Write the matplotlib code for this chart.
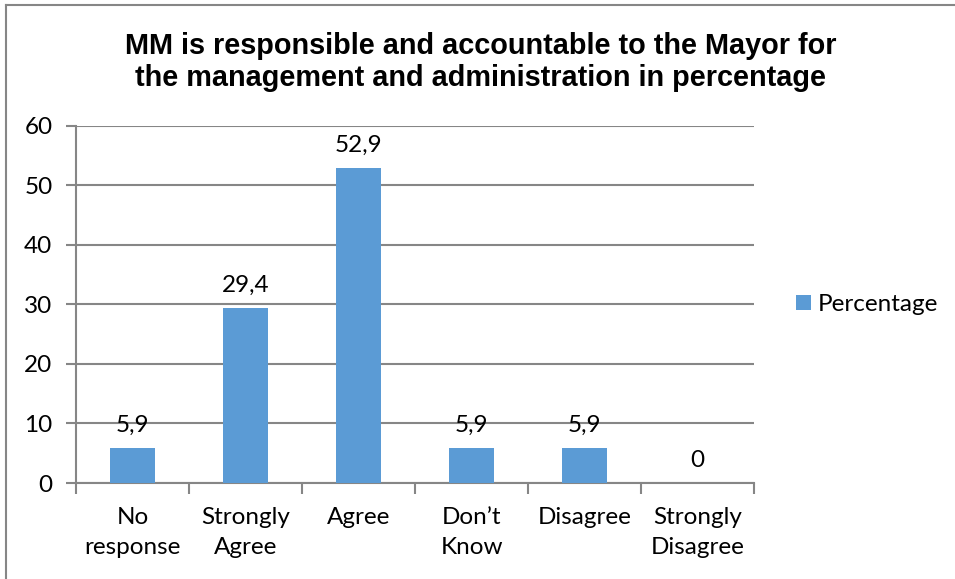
import matplotlib.pyplot as plt
from matplotlib.lines import Line2D

# Survey answers (percent of respondents)
categories = ["No\nresponse", "Strongly\nAgree", "Agree", "Don\u2019t\nKnow", "Disagree", "Strongly\nDisagree"]
percentages = [5.9, 29.4, 52.9, 5.9, 5.9, 0]
series_name = "Percentage"
y_ticks = [0, 10, 20, 30, 40, 50, 60]

bar_color = "#5B9BD5"
grid_color = "#868686"
label_font = "Lato"
label_size = 17.5

fig = plt.figure(figsize=(9.55, 5.79), dpi=100)
ax = fig.add_axes([0.0796, 0.1658, 0.710, 0.6166])

x = list(range(len(categories)))
bars = ax.bar(x, percentages, width=0.4, color=bar_color, zorder=3, label=series_name)

# value labels with comma decimals
for xi, v in zip(x, percentages):
    txt = f"{v:g}".replace(".", ",")
    ax.annotate(txt, (xi, v), xytext=(0, 9), textcoords="offset points",
                ha="center", va="bottom", fontsize=label_size, family=label_font)

ax.set_xlim(-0.5, len(categories) - 0.5)
ax.set_ylim(0, 60)
ax.set_yticks(y_ticks)
ax.set_yticklabels([str(t) for t in y_ticks], fontsize=label_size, family=label_font)
ax.yaxis.grid(True, color=grid_color, linewidth=1.5, zorder=0)
ax.tick_params(axis="y", length=7, width=1.5, color=grid_color, pad=10)

# category ticks in the middle, tick marks on the boundaries
ax.set_xticks(x)
ax.set_xticklabels(categories, fontsize=label_size, family=label_font, linespacing=1.55)
ax.tick_params(axis="x", which="major", length=0, pad=17)
ax.set_xticks([i - 0.5 for i in range(len(categories) + 1)], minor=True)
ax.tick_params(axis="x", which="minor", length=8, width=1.5, color=grid_color)

for side in ["top", "right"]:
    ax.spines[side].set_visible(False)
for side in ["left", "bottom"]:
    ax.spines[side].set_color(grid_color)
    ax.spines[side].set_linewidth(1.5)

fig.text(0.503, 0.893, "MM is responsible and accountable to the Mayor for\n"
         "the management and administration in percentage",
         ha="center", va="center", fontsize=20.8, fontweight="bold",
         family="Liberation Sans", linespacing=1.2)

leg = ax.legend(loc="center left", bbox_to_anchor=(1.03, 0.5), frameon=False,
                prop={"family": label_font, "size": label_size}, handlelength=0.6,
                handleheight=0.6, handletextpad=0.3)

# chart frame (top and left edges)
fig.add_artist(Line2D([0.0068, 0.0068], [0, 0.991], transform=fig.transFigure,
                      color=grid_color, linewidth=1.5))
fig.add_artist(Line2D([0.0068, 1.0], [0.991, 0.991], transform=fig.transFigure,
                      color=grid_color, linewidth=1.5))

fig.savefig("out.png", dpi=100, facecolor="white")
